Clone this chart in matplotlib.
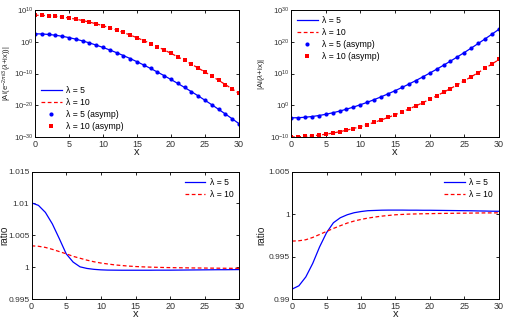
import numpy as np
import matplotlib
matplotlib.use('Agg')
import matplotlib.pyplot as plt
from matplotlib.ticker import FixedLocator, NullLocator

plt.rcParams['font.family'] = ['Liberation Sans', 'DejaVu Sans']
plt.rcParams['mathtext.fontset'] = 'custom'
plt.rcParams['mathtext.rm'] = 'Liberation Sans'
plt.rcParams['mathtext.it'] = 'Liberation Sans:italic'

# --- data ---
x_pts = list(range(0, 31))

# top-left: log10 |Ai(e^{-2pi i/3}(lambda+ix))|
log_rot_l5 = [2.51, 2.46, 2.31, 2.07, 1.74, 1.32, 0.83, 0.27, -0.35, -1.04,
              -1.78, -2.58, -3.43, -4.34, -5.28, -6.28, -7.32, -8.40, -9.52, -10.68,
              -11.88, -13.12, -14.39, -15.70, -17.04, -18.42, -19.83, -21.27, -22.75, -24.26,
              -25.79]
log_rot_l10 = [8.36, 8.32, 8.22, 8.04, 7.80, 7.50, 7.13, 6.70, 6.21, 5.66,
               5.06, 4.40, 3.69, 2.93, 2.13, 1.27, 0.38, -0.56, -1.55, -2.57,
               -3.64, -4.74, -5.88, -7.06, -8.27, -9.52, -10.81, -12.13, -13.48, -14.86,
               -16.28]

# top-right: log10 |Ai(lambda+ix)|
log_ai_l5 = [-3.96, -3.92, -3.78, -3.55, -3.24, -2.85, -2.38, -1.84, -1.23, -0.57,
             0.16, 0.94, 1.78, 2.66, 3.60, 4.58, 5.60, 6.67, 7.78, 8.93,
             10.12, 11.35, 12.61, 13.91, 15.25, 16.62, 18.02, 19.46, 20.92, 22.42,
             23.95]
log_ai_l10 = [-9.96, -9.92, -9.82, -9.65, -9.42, -9.12, -8.76, -8.34, -7.86, -7.32,
              -6.73, -6.08, -5.39, -4.64, -3.84, -3.00, -2.11, -1.18, -0.21, 0.81,
              1.86, 2.96, 4.09, 5.26, 6.47, 7.71, 8.99, 10.30, 11.64, 13.02,
              14.43]

# bottom-left: ratio for the rotated argument
ratio_rot_l5 = [1.0101, 1.0097, 1.0086, 1.0068, 1.0045, 1.0021, 1.0008, 1.00005, 0.9998, 0.99966,
                0.99958, 0.99954, 0.99953, 0.99952, 0.99952, 0.99952, 0.99952, 0.99952, 0.99953, 0.99953,
                0.99953, 0.99954, 0.99955, 0.99956, 0.99957, 0.99958, 0.99959, 0.9996, 0.9996, 0.99961,
                0.99962]
ratio_rot_l10 = [1.00335, 1.00328, 1.0031, 1.0028, 1.00245, 1.0021, 1.0017, 1.0014, 1.0011, 1.00085,
                 1.00065, 1.0005, 1.00036, 1.00026, 1.00017, 1.0001, 1.00005, 1.00001, 0.99998, 0.99995,
                 0.99993, 0.99991, 0.9999, 0.99988, 0.99987, 0.99986, 0.99985, 0.99984, 0.99983, 0.99982,
                 0.99982]

# bottom-right: ratio for the real-axis argument
ratio_ai_l5 = [0.99116, 0.99156, 0.9926, 0.99419, 0.99614, 0.9978, 0.99898, 0.99957, 0.99992, 1.00016,
               1.0003, 1.0004, 1.00043, 1.00046, 1.00047, 1.00047, 1.00047, 1.00046, 1.00046, 1.00045,
               1.00045, 1.00044, 1.00043, 1.00042, 1.00041, 1.0004, 1.00039, 1.00037, 1.00036, 1.00034,
               1.00033]
ratio_ai_l10 = [0.99682, 0.99686, 0.99698, 0.99725, 0.9976, 0.99796, 0.99831, 0.99863, 0.99894, 0.99918,
                0.99937, 0.99953, 0.99965, 0.99976, 0.99984, 0.99992, 0.99996, 1.0, 1.00002, 1.00004,
                1.00005, 1.00007, 1.00008, 1.00009, 1.0001, 1.00011, 1.00012, 1.00013, 1.00014, 1.00014,
                1.00015]

label_l5 = 'λ = 5'
label_l10 = 'λ = 10'

BLUE = '#0000ff'
RED = '#ff0000'

fig = plt.figure(figsize=(5.06, 3.30), dpi=100)
ax_tl = fig.add_axes([0.0690, 0.5848, 0.4033, 0.3848])
ax_tr = fig.add_axes([0.5751, 0.5848, 0.4111, 0.3848])
ax_bl = fig.add_axes([0.0623, 0.0939, 0.4110, 0.3860])
ax_br = fig.add_axes([0.5771, 0.0939, 0.4090, 0.3860])


def style(ax, ysize=6.5, ypad=1.5):
    ax.tick_params(direction='in', top=True, right=True, labelsize=6.5,
                   length=2.5, width=0.6, colors='black', labelcolor='#333333', pad=2)
    ax.tick_params(axis='y', labelsize=ysize, pad=ypad)
    for s in ax.spines.values():
        s.set_linewidth(0.7)
    ax.set_xlim(0, 30)
    ax.set_xticks([0, 5, 10, 15, 20, 25, 30])
    ax.set_xlabel('x', fontsize=8, labelpad=-1, color='#222222')


def log_panel(ax, ylo, yhi, l5, l10, loc, ylabel, lab_x, lab_size):
    y5 = 10.0 ** np.array(l5)
    y10 = 10.0 ** np.array(l10)
    ax.semilogy(x_pts, y5, '-', color=BLUE, lw=0.9, label=label_l5)
    ax.semilogy(x_pts, y10, '--', color=RED, lw=0.9, dashes=(3, 2), label=label_l10)
    ax.semilogy(x_pts, y5, 'o', color=BLUE, ms=3.0, mew=0, label=label_l5 + ' (asymp)')
    ax.semilogy(x_pts, y10, 's', color=RED, ms=2.8, mew=0, label=label_l10 + ' (asymp)')
    ax.set_ylim(10.0 ** ylo, 10.0 ** yhi)
    ax.yaxis.set_major_locator(FixedLocator([10.0 ** e for e in range(ylo, yhi + 1, 10)]))
    ax.yaxis.set_minor_locator(NullLocator())
    style(ax, ysize=5.6, ypad=1.0)
    ax.set_ylabel(ylabel, fontsize=lab_size, color='#222222')
    ax.yaxis.set_label_coords(lab_x, 0.5)
    ax.legend(loc=loc, frameon=False, fontsize=6.2, handlelength=2.4,
              handletextpad=0.5, labelspacing=0.35, borderaxespad=0.3)


log_panel(ax_tl, -30, 10, log_rot_l5, log_rot_l10, 'lower left',
          r'|Ai(e$^{-2\pi i/3}$($\lambda$+ix))|', -0.103, 5.5)
log_panel(ax_tr, -10, 30, log_ai_l5, log_ai_l10, 'upper left',
          r'|Ai($\lambda$+ix)|', -0.115, 5.8)


def ratio_panel(ax, r5, r10, ylo, yhi, yticks, ticklabels, lab_x):
    ax.plot(x_pts, r5, '-', color=BLUE, lw=0.9, label=label_l5)
    ax.plot(x_pts, r10, '--', color=RED, lw=0.9, dashes=(3, 2), label=label_l10)
    ax.set_ylim(ylo, yhi)
    ax.set_yticks(yticks)
    ax.set_yticklabels(ticklabels)
    style(ax, ysize=6.0)
    ax.set_ylabel('ratio', fontsize=7.2, color='#222222')
    ax.yaxis.set_label_coords(lab_x, 0.5)
    ax.legend(loc='upper right', frameon=False, fontsize=6.2, handlelength=2.4,
              handletextpad=0.5, labelspacing=0.35, borderaxespad=0.3)


ratio_panel(ax_bl, ratio_rot_l5, ratio_rot_l10, 0.995, 1.015,
            [0.995, 1.0, 1.005, 1.01, 1.015], ['0.995', '1', '1.005', '1.01', '1.015'], -0.108)
ratio_panel(ax_br, ratio_ai_l5, ratio_ai_l10, 0.99, 1.005,
            [0.99, 0.995, 1.0, 1.005], ['0.99', '0.995', '1', '1.005'], -0.125)

fig.savefig('out.png', dpi=100)
